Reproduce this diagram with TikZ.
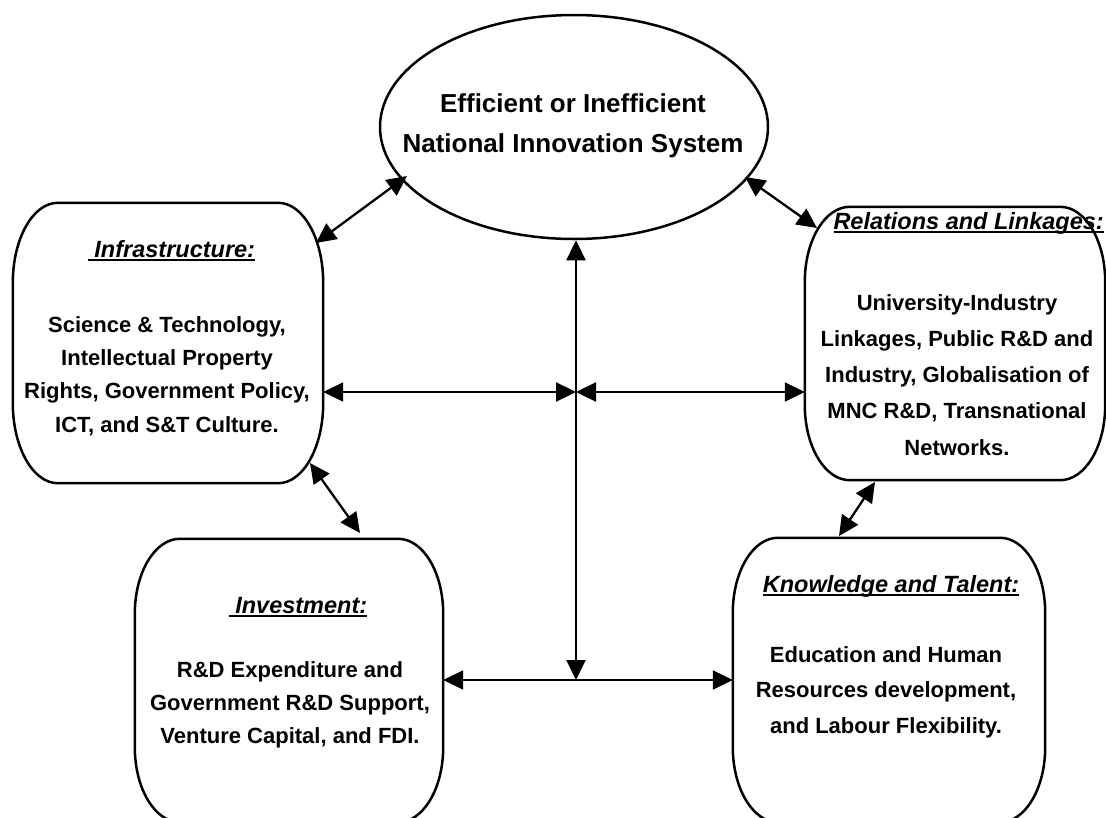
\documentclass[tikz,border=0pt]{standalone}
\usepackage{fontspec}
\setmainfont{Liberation Sans}
\usetikzlibrary{arrows.meta,shapes.geometric,calc}
\newcommand\myul[1]{\leavevmode\setbox0\hbox{#1}\rlap{\rule[-4pt]{\wd0}{2.4pt}}\box0}
\newcommand\rbox[3]{\draw[boxline] ([xshift=#2]#1.north west) -- ([xshift=-#2]#1.north east)
  arc[start angle=90,end angle=0,x radius=#2,y radius=#3] -- ([yshift=#3]#1.south east)
  arc[start angle=0,end angle=-90,x radius=#2,y radius=#3] -- ([xshift=#2]#1.south west)
  arc[start angle=270,end angle=180,x radius=#2,y radius=#3] -- ([yshift=-#3]#1.north west)
  arc[start angle=180,end angle=90,x radius=#2,y radius=#3] -- cycle;}
\tikzset{
  boxline/.style={line width=2.5pt, line join=round},
  boxnode/.style={rectangle, draw=none, inner sep=0pt},
  arr/.style={line width=2.3pt, {Triangle[length=20pt,width=19pt]}-{Triangle[length=20pt,width=19pt]}},
  head/.style={inner sep=0pt, font=\fontsize{23.5}{28}\selectfont\bfseries\itshape},
  body/.style={inner sep=0pt, align=center, anchor=base}
}
\begin{document}
\begin{tikzpicture}[x=1pt,y=-1pt]
\useasboundingbox (0,0) rectangle (1106,817);
\clip (0,0) rectangle (1106,817);
% central ellipse
\node[ellipse, draw, line width=2.5pt, minimum width=388pt, minimum height=224pt, inner sep=0pt] (nis) at (574,127) {};
\node[body, font=\fontsize{26}{40}\selectfont\bfseries] (nistext) at (573,152) {Efficient or Inefficient\\National Innovation System};
% boxes
\node[boxnode, minimum width=310pt, minimum height=280pt] (infra) at (168,343) {};
\node[boxnode, minimum width=300pt, minimum height=273pt] (rel) at (955,343.5) {};
\node[boxnode, minimum width=308pt, minimum height=283pt] (inv) at (289,680.5) {};
\node[boxnode, minimum width=312pt, minimum height=284pt] (kt) at (889,680) {};
\rbox{infra}{45pt}{80pt}
\rbox{rel}{45pt}{75pt}
\rbox{inv}{45pt}{75pt}
\rbox{kt}{45pt}{75pt}
% texts
\node[head, anchor=base] (infrah) at (171.5,257) {\myul{\ Infrastructure:}};
\node[body, font=\fontsize{22}{33.3}\selectfont\bfseries] (infrab) at (167,432) {Science \& Technology,\\Intellectual Property\\Rights, Government Policy,\\ICT, and S\&T Culture.};
\node[head, anchor=base east] (relh) at (1104,229) {\myul{Relations and Linkages:}};
\node[body, font=\fontsize{22}{36.2}\selectfont\bfseries] (relb) at (957,455) {University-Industry\\Linkages, Public R\&D and\\Industry, Globalisation of\\MNC R\&D, Transnational\\Networks.};
\node[head, anchor=base] (invh) at (298,613) {\myul{\ Investment:}};
\node[body, font=\fontsize{22}{33}\selectfont\bfseries] (invb) at (290,743) {R\&D Expenditure and\\Government R\&D Support,\\Venture Capital, and FDI.};
\node[head, anchor=base] (kth) at (891,592) {\myul{Knowledge and Talent:}};
\node[body, font=\fontsize{22}{35.5}\selectfont\bfseries] (ktb) at (886,733) {Education and Human\\Resources development,\\and Labour Flexibility.};
% connector points
\coordinate (hub) at (576,392);
\coordinate (bhub) at (576,680);
\coordinate (infraNE) at (316,243);
\coordinate (nisSW) at (407,176);
\coordinate (nisSE) at (745,177);
\coordinate (relNW) at (817,228);
\coordinate (infraSE) at (310,463);
\coordinate (invN) at (360,533);
\coordinate (relS) at (875,482);
\coordinate (ktN) at (839,536);
% connectors
\draw[arr] (infraNE) -- (nisSW);
\draw[arr] (nisSE) -- (relNW);
\draw[arr] (infra.east |- hub) -- (hub);
\draw[arr] (hub) -- (rel.west |- hub);
\draw[arr] (hub |- nis.south) -- (bhub);
\draw[arr] (inv.east |- bhub) -- (kt.west |- bhub);
\draw[arr] (infraSE) -- (invN);
\draw[arr] (relS) -- (ktN);
\end{tikzpicture}
\end{document}
